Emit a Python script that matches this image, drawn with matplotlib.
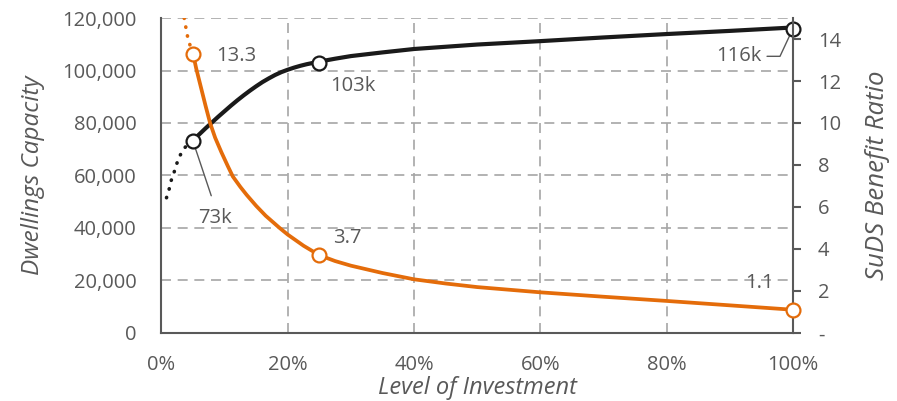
import numpy as np
import matplotlib.pyplot as plt
from matplotlib.ticker import FuncFormatter, PercentFormatter, FixedLocator

plt.rcParams['font.family'] = ['Open Sans', 'DejaVu Sans']

# level of investment (%) along the smoothed curves
dwell_x = [5, 6, 7, 8, 9, 10, 11, 12, 13, 14, 15, 16, 17, 18, 19, 20, 21, 22, 23, 24, 25,
           27.5, 30, 35, 40, 50, 60, 70, 80, 90, 100]
dwell_y = [73500, 75700, 78000, 80200, 82400, 84500, 86600, 88600, 90500, 92300, 94000,
           95600, 97000, 98300, 99400, 100300, 101100, 101800, 102400, 102900, 103400,
           104500, 105500, 106900, 108200, 109900, 111200, 112600, 113900, 115100, 116400]
# dotted lead-in of the dwellings curve
dwell_x_dot = [0.8, 1.2, 1.5, 1.9, 2.3, 2.7, 3.3, 4.0, 5]
dwell_y_dot = [51500, 54600, 57800, 60400, 63600, 66400, 69300, 71500, 73500]

ratio_x = [5, 5.5, 6, 6.5, 7, 7.7, 8.5, 9.5, 10.5, 11.3, 12.5, 13.5, 15, 16.5, 18.7, 20,
           22.5, 25, 27.5, 30, 35, 40, 45, 50, 60, 70, 80, 90, 100]
ratio_y = [13.3, 12.6, 12.0, 11.4, 10.8, 10.0, 9.3, 8.6, 7.95, 7.45, 6.95, 6.57, 6.05, 5.58,
           5.0, 4.68, 4.15, 3.7, 3.42, 3.2, 2.85, 2.55, 2.35, 2.18, 1.93, 1.72, 1.52,
           1.31, 1.1]
ratio_x_dot = [3.6, 3.8, 4.0, 4.3, 5]
ratio_y_dot = [15.0, 14.67, 14.3, 13.9, 13.3]

# labelled points
pts_x = [5, 25, 100]
pts_dwell = [73000, 103000, 116000]
pts_ratio = [13.3, 3.7, 1.1]
dwell_labels = ['73k', '103k', '116k']
ratio_labels = ['13.3', '3.7', '1.1']

grey = '#595959'
orange = '#E46C0A'
black = '#1a1a1a'

fig = plt.figure(figsize=(8.97, 4.01), dpi=100)
ax = fig.add_axes([0.18, 0.170, 0.704, 0.785])
ax2 = ax.twinx()

# dwellings (left axis)
ax.plot(dwell_x_dot, dwell_y_dot, color=black, lw=2.6, linestyle=(0, (0.1, 2.4)),
        dash_capstyle='round', zorder=3)
ax.plot(dwell_x, dwell_y, color=black, lw=3, solid_capstyle='round',
        solid_joinstyle='round', zorder=3)
ax.plot(pts_x, pts_dwell, linestyle='none', marker='o', ms=10, mfc='white',
        mec=black, mew=1.6, zorder=4, clip_on=False)

# benefit ratio (right axis)
ax2.plot(ratio_x_dot, ratio_y_dot, color=orange, lw=2.6, linestyle=(0, (0.1, 2.4)),
         dash_capstyle='round', zorder=3)
ax2.plot(ratio_x, ratio_y, color=orange, lw=2.7, solid_capstyle='round',
         solid_joinstyle='round', zorder=3)
ax2.plot(pts_x, pts_ratio, linestyle='none', marker='o', ms=10, mfc='white',
         mec=orange, mew=1.6, zorder=4, clip_on=False)

ax.set_xlim(0, 100)
ax.set_ylim(0, 120000)
ax2.set_ylim(0, 15)

ax.xaxis.set_major_locator(FixedLocator([0, 20, 40, 60, 80, 100]))
ax.xaxis.set_major_formatter(PercentFormatter(100, decimals=0))
ax.yaxis.set_major_locator(FixedLocator(np.arange(0, 120001, 20000)))
ax.yaxis.set_major_formatter(FuncFormatter(lambda v, p: f'{v:,.0f}'))
ax2.yaxis.set_major_locator(FixedLocator(np.arange(0, 15, 2)))
ax2.yaxis.set_major_formatter(FuncFormatter(lambda v, p: '-' if v == 0 else f'{v:.0f}'))

ax.grid(True, color='#a6a6a6', linestyle=(0, (6, 4)), lw=1.2)
ax.set_axisbelow(True)

for a in (ax, ax2):
    a.spines['top'].set_visible(False)
ax.spines['right'].set_visible(False)
ax2.spines['left'].set_visible(False)
ax2.spines['bottom'].set_visible(False)
for s, a in (('left', ax), ('bottom', ax), ('right', ax2)):
    a.spines[s].set_color(grey)
    a.spines[s].set_linewidth(1.5)

ax.tick_params(axis='x', length=0, pad=16, labelsize=14.5, labelcolor=grey)
ax.tick_params(axis='y', length=0, pad=18, labelsize=14.5, labelcolor=grey)
ax2.tick_params(axis='y', length=6, width=1.5, color=grey, pad=12, labelsize=14.5,
                labelcolor=grey)

ax.set_xlabel('Level of Investment', fontsize=17, style='italic', color=grey, labelpad=1)
ax.set_ylabel('Dwellings Capacity', fontsize=17.5, style='italic', color=grey, labelpad=12)
ax2.set_ylabel('SuDS Benefit Ratio', fontsize=18.5, style='italic', color=grey, labelpad=17)

lab = dict(fontsize=14.5, color=grey, va='center', textcoords='offset points')
# dwellings labels
ax.annotate(dwell_labels[0], (pts_x[0], pts_dwell[0]), xytext=(16, -55), ha='center',
            arrowprops=dict(arrowstyle='-', color=grey, lw=1, shrinkA=7, shrinkB=5,
                            relpos=(0.5, 1)), **lab)
ax.annotate(dwell_labels[1], (pts_x[1], pts_dwell[1]), xytext=(8, -17), ha='left', **lab)
ax.annotate(dwell_labels[2], (pts_x[2], pts_dwell[2]), xytext=(-39, -20), ha='center',
            arrowprops=dict(arrowstyle='-', color=grey, lw=1, shrinkA=2, shrinkB=5,
                            relpos=(1, 0.5),
                            connectionstyle='angle,angleA=0,angleB=65,rad=0'), **lab)
# ratio labels
ax2.annotate(ratio_labels[0], (pts_x[0], pts_ratio[0]), xytext=(17, -2), ha='left', **lab)
ax2.annotate(ratio_labels[1], (pts_x[1], pts_ratio[1]), xytext=(20, 12.5), ha='center', **lab)
ax2.annotate(ratio_labels[2], (pts_x[2], pts_ratio[2]), xytext=(-24, 19.5), ha='center', **lab)

fig.savefig('out.png', dpi=100)
